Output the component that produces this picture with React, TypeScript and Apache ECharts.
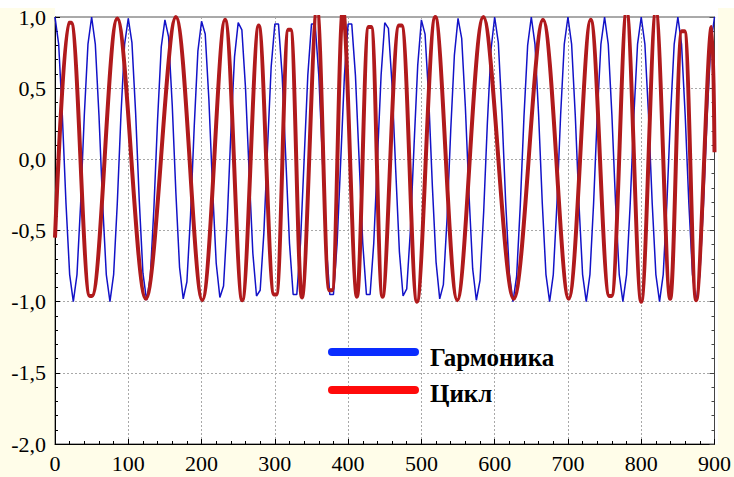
import React, { useEffect, useRef } from "react";
import * as echarts from "echarts";

// Гармоника: sampled every 5 units along x (0..900)
const harmonicStep = 5;
const harmonicValues = [
  1, 0.81, 0.31, -0.31, -0.81, -1, -0.81, -0.31, 0.31, 0.81,
  1, 0.81, 0.31, -0.31, -0.81, -1, -0.81, -0.31, 0.31, 0.81,
  0.99, 0.82, 0.33, -0.29, -0.8, -0.99, -0.83, -0.34, 0.28, 0.79,
  0.98, 0.86, 0.38, -0.24, -0.76, -0.98, -0.86, -0.39, 0.23, 0.76,
  0.97, 0.88, 0.42, -0.2, -0.73, -0.97, -0.89, -0.43, 0.19, 0.72,
  0.96, 0.91, 0.5, -0.1, -0.66, -0.96, -0.92, -0.52, 0.08, 0.65,
  0.95, 0.95, 0.59, 0, -0.59, -0.95, -0.95, -0.59, 0, 0.59,
  0.95, 0.95, 0.59, 0, -0.59, -0.95, -0.95, -0.59, 0, 0.59,
  0.95, 0.95, 0.59, 0, -0.59, -0.95, -0.95, -0.59, 0, 0.59,
  0.96, 0.92, 0.52, -0.08, -0.65, -0.96, -0.91, -0.5, 0.1, 0.66,
  0.98, 0.88, 0.43, -0.19, -0.72, -0.98, -0.88, -0.42, 0.2, 0.73,
  0.99, 0.85, 0.37, -0.25, -0.77, -0.99, -0.85, -0.37, 0.25, 0.77,
  1, 0.82, 0.32, -0.3, -0.8, -1, -0.82, -0.32, 0.3, 0.8,
  1, 0.81, 0.31, -0.31, -0.81, -1, -0.81, -0.31, 0.31, 0.81,
  1, 0.81, 0.31, -0.31, -0.81, -1, -0.81, -0.31, 0.31, 0.81,
  1, 0.81, 0.31, -0.31, -0.81, -1, -0.81, -0.31, 0.31, 0.81,
  1, 0.81, 0.31, -0.31, -0.81, -1, -0.81, -0.31, 0.31, 0.81,
  1, 0.81, 0.31, -0.31, -0.81, -1, -0.81, -0.31, 0.31, 0.81,
  1,
];

// Цикл: turning points
const cycleX = [
  0, 19, 22, 47.5, 50.5, 85, 124, 165, 201, 232, 255.5, 278, 299, 302, 318.5,
  321.5, 337, 357.5, 374.5, 378, 393, 412, 428, 431.5, 447, 469.5, 473, 494,
  519, 549, 584.5, 626, 666, 701, 731, 756.5, 759.5, 780, 800, 820, 839.5,
  855.5, 859, 875, 896, 900,
];
const cycleY = [
  -0.55, 0.96, 0.96, -0.96, -0.96, 0.99, -0.98, 1.0, -0.99, 0.98, -0.99, 0.94,
  -0.95, -0.95, 0.91, 0.91, -0.97, 1.06, -0.92, -0.92, 1.06, -0.965, 0.93, 0.93,
  -0.965, 0.94, 0.94, -1.0, 1.0, -0.99, 1.0, -0.98, 0.98, -0.98, 0.98, -0.96,
  -0.96, 1.04, -1.0, 1.04, -0.98, 0.9, 0.9, -0.99, 0.93, 0.05,
];

const xMin = 0;
const xMax = 900;
const xInterval = 100;
const yMin = -2;
const yMax = 1;
const yInterval = 0.5;

const legendNames = ["Гармоника", "Цикл"];

export default function App() {
  const ref = useRef<HTMLDivElement>(null);

  useEffect(() => {
    document.body.style.margin = "0";
    const chart = echarts.init(ref.current!, null, { renderer: "svg" });
    const serif = "Liberation Serif";
    const cream = "#fffde9";

    const harmonicData = harmonicValues.map((v, i) => [i * harmonicStep, v]);
    const cycleData = cycleX.map((x, i) => [x, cycleY[i]]);

    const axisLabel = {
      color: "#000",
      fontFamily: serif,
      fontSize: 22,
    };
    const split = {
      show: true,
      lineStyle: { color: "#a8a8a8", type: [2, 2] as any, width: 1 },
    };
    const legendText = (text: string, y: number) => ({
      type: "text",
      z: 50,
      x: 430,
      y,
      style: {
        text,
        fill: "#000",
        fontFamily: serif,
        fontWeight: "bold",
        fontSize: 25,
        verticalAlign: "middle",
      },
    });

    chart.setOption({
      animation: false,
      backgroundColor: "#ffffff",
      grid: {
        left: 55,
        right: 16,
        top: 17,
        bottom: 33,
        show: true,
        backgroundColor: "#ffffff",
        borderColor: "#555",
        borderWidth: 1,
      },
      graphic: [
        { type: "rect", z: -10, silent: true, shape: { x: 0, y: 8, width: 55, height: 469 }, style: { fill: cream } },
        { type: "rect", z: -10, silent: true, shape: { x: 718, y: 8, width: 16, height: 469 }, style: { fill: cream } },
        { type: "rect", z: -10, silent: true, shape: { x: 0, y: 444, width: 734, height: 33 }, style: { fill: cream } },
        {
          type: "line",
          z: 50,
          shape: { x1: 332, y1: 352, x2: 415, y2: 352 },
          style: { stroke: "#0a2cff", lineWidth: 8, lineCap: "round" },
        },
        {
          type: "line",
          z: 50,
          shape: { x1: 332, y1: 390, x2: 415, y2: 390 },
          style: { stroke: "#ff0a0a", lineWidth: 8, lineCap: "round" },
        },
        legendText(legendNames[0], 357),
        legendText(legendNames[1], 393),
      ],
      xAxis: {
        type: "value",
        min: xMin,
        max: xMax,
        interval: xInterval,
        axisLine: { show: true, onZero: false, lineStyle: { color: "#000", width: 1 } },
        axisTick: { show: true, inside: true, length: 5, lineStyle: { color: "#000" } },
        minorTick: { show: true, splitNumber: 5, length: 3, lineStyle: { color: "#000" } },
        axisLabel: { ...axisLabel, margin: 8 },
        splitLine: split,
      },
      yAxis: [
        {
          type: "value",
          min: yMin,
          max: yMax,
          interval: yInterval,
          axisLine: { show: true, onZero: false, lineStyle: { color: "#000", width: 1 } },
          axisTick: { show: true, inside: true, length: 5, lineStyle: { color: "#000" } },
          minorTick: { show: true, splitNumber: 5, length: 3, lineStyle: { color: "#000" } },
          axisLabel: {
            ...axisLabel,
            margin: 9,
            formatter: (v: number) => v.toFixed(1).replace(".", ","),
          },
          splitLine: split,
        },
        {
          type: "value",
          position: "right",
          min: yMin,
          max: yMax,
          interval: yInterval,
          axisLine: { show: true, onZero: false, lineStyle: { color: "#444", width: 1 } },
          axisTick: { show: true, inside: true, length: 5, lineStyle: { color: "#444" } },
          minorTick: { show: true, splitNumber: 5, length: 3, lineStyle: { color: "#444" } },
          axisLabel: { show: false },
          splitLine: { show: false },
        },
      ],
      series: [
        {
          name: legendNames[0],
          type: "line",
          data: harmonicData,
          showSymbol: false,
          lineStyle: { color: "#1212c8", width: 1.5 },
          z: 2,
        },
        {
          name: legendNames[1],
          type: "line",
          data: cycleData,
          showSymbol: false,
          smooth: 0.33,
          lineStyle: { color: "#b01a1c", width: 4 },
          z: 3,
        },
      ],
    });

    return () => chart.dispose();
  }, []);

  return <div ref={ref} style={{ width: 734, height: 477 }} />;
}
